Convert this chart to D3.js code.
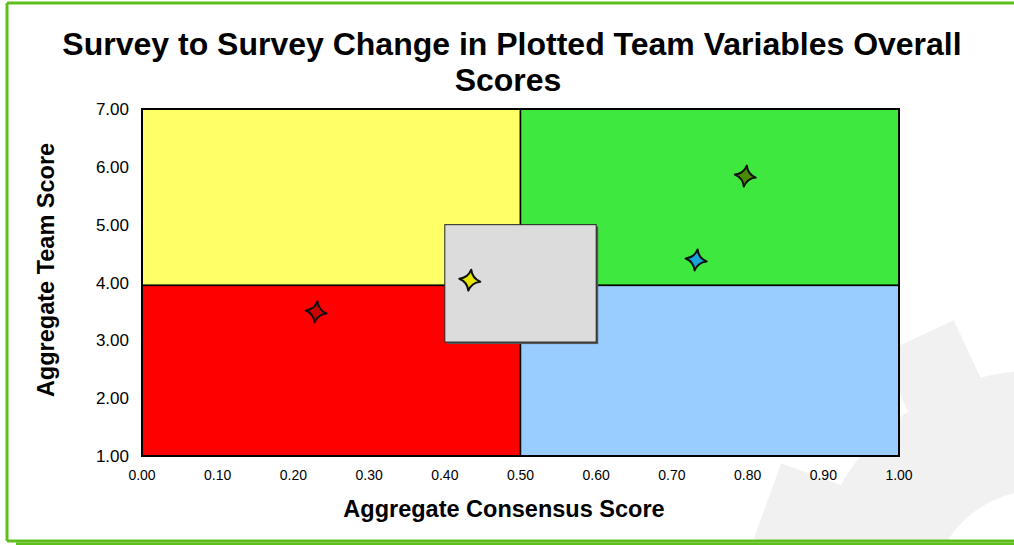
<!DOCTYPE html>
<html>
<head>
<meta charset="utf-8">
<script src="https://cdn.jsdelivr.net/npm/d3@7"></script>
<style>
  body { margin: 0; background: #fff; }
  svg { display: block; font-family: "Liberation Sans", Arial, sans-serif; }
</style>
</head>
<body>
<svg id="target"></svg>
<script>
const xTicks = [0, 0.1, 0.2, 0.3, 0.4, 0.5, 0.6, 0.7, 0.8, 0.9, 1.0];
const yTicks = [1, 2, 3, 4, 5, 6, 7];

// quadrants: [x0, x1, y0, y1, fill]
const quadX = [[0, 0.5], [0.5, 1], [0, 0.5], [0.5, 1]];
const quadY = [[3.95, 7], [3.95, 7], [1, 3.95], [1, 3.95]];
const quadFill = ['#ffff66', '#3ee83e', '#ff0000', '#99ccff'];

// neutral zone box
const boxX = [0.4, 0.6];
const boxY = [2.97, 5.0];

// team points
const pointX = [0.23, 0.433, 0.732, 0.797];
const pointY = [3.49, 4.04, 4.39, 5.84];
const pointFill = ['#cc0000', '#e6e600', '#1aa3d9', '#4a8a00'];

const width = 1014;
const height = 545;
const margin = {left: 142, right: 115, top: 109, bottom: 89};

const svg = d3.select('#target')
  .attr('width', width)
  .attr('height', height);

// faint gear watermark, lower right
const gear = svg.append('g')
  .attr('transform', 'translate(1040,600) rotate(20)')
  .attr('fill', '#f1f1f1');
gear.append('circle').attr('r', 230);
for (let i = 0; i < 8; i++) {
  gear.append('rect')
    .attr('x', -40).attr('y', -290)
    .attr('width', 80).attr('height', 90)
    .attr('transform', 'rotate(' + (i * 45) + ')');
}
gear.append('circle').attr('r', 110).attr('fill', '#fff');

// green frame
svg.append('line').attr('x1', 7).attr('y1', 3).attr('x2', 1014).attr('y2', 3)
  .attr('stroke', '#5cbf1a').attr('stroke-width', 3);
svg.append('line').attr('x1', 7).attr('y1', 3).attr('x2', 7).attr('y2', 541)
  .attr('stroke', '#5cbf1a').attr('stroke-width', 3);
svg.append('line').attr('x1', 7).attr('y1', 541).attr('x2', 1014).attr('y2', 541)
  .attr('stroke', '#5cbf1a').attr('stroke-width', 3);
svg.append('line').attr('x1', 16).attr('y1', 544).attr('x2', 1014).attr('y2', 544)
  .attr('stroke', '#5cbf1a').attr('stroke-width', 3);

const x = d3.scaleLinear().domain([0, 1]).range([margin.left, width - margin.right]);
const y = d3.scaleLinear().domain([1, 7]).range([height - margin.bottom, margin.top]);

svg.selectAll('.quad')
  .data(quadFill)
  .enter().append('rect')
    .attr('class', 'quad')
    .attr('x', (d, i) => x(quadX[i][0]))
    .attr('y', (d, i) => y(quadY[i][1]))
    .attr('width', (d, i) => x(quadX[i][1]) - x(quadX[i][0]))
    .attr('height', (d, i) => y(quadY[i][0]) - y(quadY[i][1]))
    .attr('fill', d => d)
    .attr('stroke', '#000')
    .attr('stroke-width', 1.5);

// box shadow + box
svg.append('rect')
  .attr('x', x(boxX[0]) + 2).attr('y', y(boxY[1]) + 2)
  .attr('width', x(boxX[1]) - x(boxX[0])).attr('height', y(boxY[0]) - y(boxY[1]))
  .attr('fill', '#555');
svg.append('rect')
  .attr('x', x(boxX[0])).attr('y', y(boxY[1]))
  .attr('width', x(boxX[1]) - x(boxX[0])).attr('height', y(boxY[0]) - y(boxY[1]))
  .attr('fill', '#dcdcdc')
  .attr('stroke', '#222')
  .attr('stroke-width', 1);

// plot frame
svg.append('rect')
  .attr('x', x(0)).attr('y', y(7))
  .attr('width', x(1) - x(0)).attr('height', y(1) - y(7))
  .attr('fill', 'none').attr('stroke', '#000').attr('stroke-width', 2);

// 4-point concave stars
const star4 = {
  draw(ctx, size) {
    const r = Math.sqrt(size) * 0.75, k = r * 0.2;
    ctx.moveTo(0, -r);
    ctx.quadraticCurveTo(k, -k, r, 0);
    ctx.quadraticCurveTo(k, k, 0, r);
    ctx.quadraticCurveTo(-k, k, -r, 0);
    ctx.quadraticCurveTo(-k, -k, 0, -r);
    ctx.closePath();
  }
};
const star = d3.symbol().type(star4).size(200);

svg.selectAll('.pt')
  .data(pointX)
  .enter().append('path')
    .attr('class', 'pt')
    .attr('d', star)
    .attr('transform', (d, i) => 'translate(' + x(d) + ',' + y(pointY[i]) + ') rotate(8)')
    .attr('fill', (d, i) => pointFill[i])
    .attr('stroke', '#111')
    .attr('stroke-width', 2)
    .attr('stroke-linejoin', 'round');

// tick labels
svg.selectAll('.xt')
  .data(xTicks)
  .enter().append('text')
    .attr('x', d => x(d))
    .attr('y', y(1) + 24)
    .attr('text-anchor', 'middle')
    .attr('font-size', 14)
    .text(d => d.toFixed(2));

svg.selectAll('.yt')
  .data(yTicks)
  .enter().append('text')
    .attr('x', x(0) - 13)
    .attr('y', d => y(d) + 6)
    .attr('text-anchor', 'end')
    .attr('font-size', 17)
    .text(d => d.toFixed(2));

// titles
svg.append('text')
  .attr('x', 512).attr('y', 55)
  .attr('text-anchor', 'middle')
  .attr('font-size', 32).attr('font-weight', 'bold')
  .text('Survey to Survey Change in Plotted Team Variables Overall');
svg.append('text')
  .attr('x', 508).attr('y', 91)
  .attr('text-anchor', 'middle')
  .attr('font-size', 32).attr('font-weight', 'bold')
  .text('Scores');

svg.append('text')
  .attr('x', 504).attr('y', 517)
  .attr('text-anchor', 'middle')
  .attr('font-size', 23.5).attr('font-weight', 'bold')
  .text('Aggregate Consensus Score');

svg.append('text')
  .attr('transform', 'translate(54,270) rotate(-90)')
  .attr('text-anchor', 'middle')
  .attr('font-size', 23.5).attr('font-weight', 'bold')
  .text('Aggregate Team Score');
</script>
</body>
</html>
